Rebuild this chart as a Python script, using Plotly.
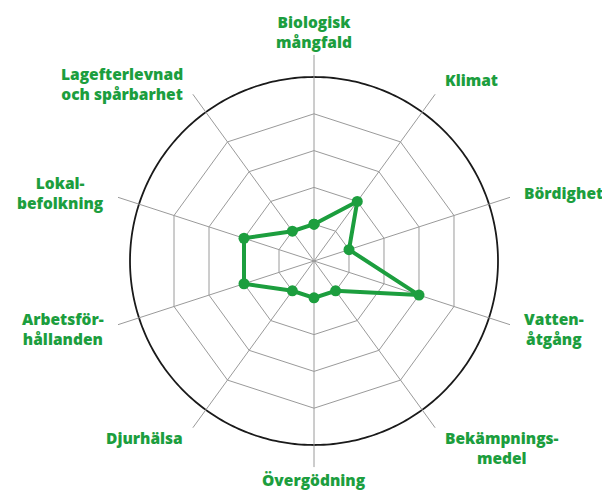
import math
import plotly.graph_objects as go

# ---- data ----
categories = ["Biologisk mångfald", "Klimat", "Bördighet", "Vattenåtgång",
              "Bekämpningsmedel", "Övergödning", "Djurhälsa",
              "Arbetsförhållanden", "Lokalbefolkning", "Lagefterlevnad och spårbarhet"]
label_text = ["Biologisk<br>mångfald", "Klimat", "Bördighet", "Vatten-<br>åtgång",
              "Bekämpnings-<br>medel", "Övergödning", "Djurhälsa",
              "Arbetsför-<br>hållanden", "Lokal-<br>befolkning", "Lagefterlevnad<br>och spårbarhet"]
values = [1, 2, 1, 3, 1, 1, 1, 2, 2, 1]
grid_levels = [1, 2, 3, 4]
outer_level = 5

# ---- style / geometry (page has an 8px body margin) ----
PAGE_OFF = 8
W, H = 610 - PAGE_OFF, 495 - PAGE_OFF
CX, CY = 314 - PAGE_OFF, 261 - PAGE_OFF   # centre in figure px
UNIT = 36.8                # px per value unit
RMAX = 5.6                 # spoke length in value units
R_PX = RMAX * UNIT
GREEN = "#1c9e3e"
LABEL_R = 219              # px
LABEL_R_VERT = 206
FONT = "Open Sans"
NUDGE = {4: 10, 1: -4}     # vertical px nudges (down positive) for some labels

dom_x = [(CX - R_PX) / W, (CX + R_PX) / W]
dom_y = [1 - (CY + R_PX) / H, 1 - (CY - R_PX) / H]

fig = go.Figure()

# outer black circle on a plain circular polar
fig.add_trace(go.Scatterpolar(
    r=[outer_level] * 361, theta=list(range(361)), mode="lines",
    line=dict(color="#1a1a1a", width=1.8), hoverinfo="skip",
    subplot="polar", showlegend=False))

# data
fig.add_trace(go.Scatterpolar(
    r=values + values[:1], theta=categories + categories[:1],
    mode="lines+markers",
    line=dict(color=GREEN, width=4),
    marker=dict(color=GREEN, size=11),
    subplot="polar2", showlegend=False))

fig.update_layout(
    width=W, height=H, autosize=False,
    margin=dict(l=0, r=0, t=0, b=0),
    paper_bgcolor="white",
    polar=dict(
        domain=dict(x=dom_x, y=dom_y),
        bgcolor="white",
        radialaxis=dict(range=[0, RMAX], visible=False),
        angularaxis=dict(visible=False),
    ),
    polar2=dict(
        domain=dict(x=dom_x, y=dom_y),
        bgcolor="rgba(0,0,0,0)",
        gridshape="linear",
        radialaxis=dict(range=[0, RMAX], tickvals=grid_levels, showticklabels=False,
                        showline=False, ticks="", gridcolor="#9a9a9a", gridwidth=1),
        angularaxis=dict(type="category", categoryarray=categories,
                         rotation=90, direction="clockwise",
                         showline=False, showticklabels=False, ticks="",
                         gridcolor="#9a9a9a", gridwidth=1),
    ),
)

n = len(categories)
for i, txt in enumerate(label_text):
    ang = math.radians(90 - 360 * i / n)
    c, s = math.cos(ang), math.sin(ang)
    r = LABEL_R if abs(c) >= 0.2 else LABEL_R_VERT
    x = CX + r * c
    y = CY - r * s + NUDGE.get(i, 0)
    if c > 0.2:
        xa = "left"
    elif c < -0.2:
        xa = "right"
    else:
        xa = "center"
    if s > 0.95:
        ya = "bottom"
    elif s < -0.95:
        ya = "top"
    else:
        ya = "middle"
    fig.add_annotation(x=x / W, y=1 - y / H, xref="paper", yref="paper",
                       text=txt, showarrow=False, xanchor=xa, yanchor=ya,
                       align="center",
                       font=dict(family=FONT, size=15.5, color=GREEN, weight=800))

fig.write_html("out.html")
